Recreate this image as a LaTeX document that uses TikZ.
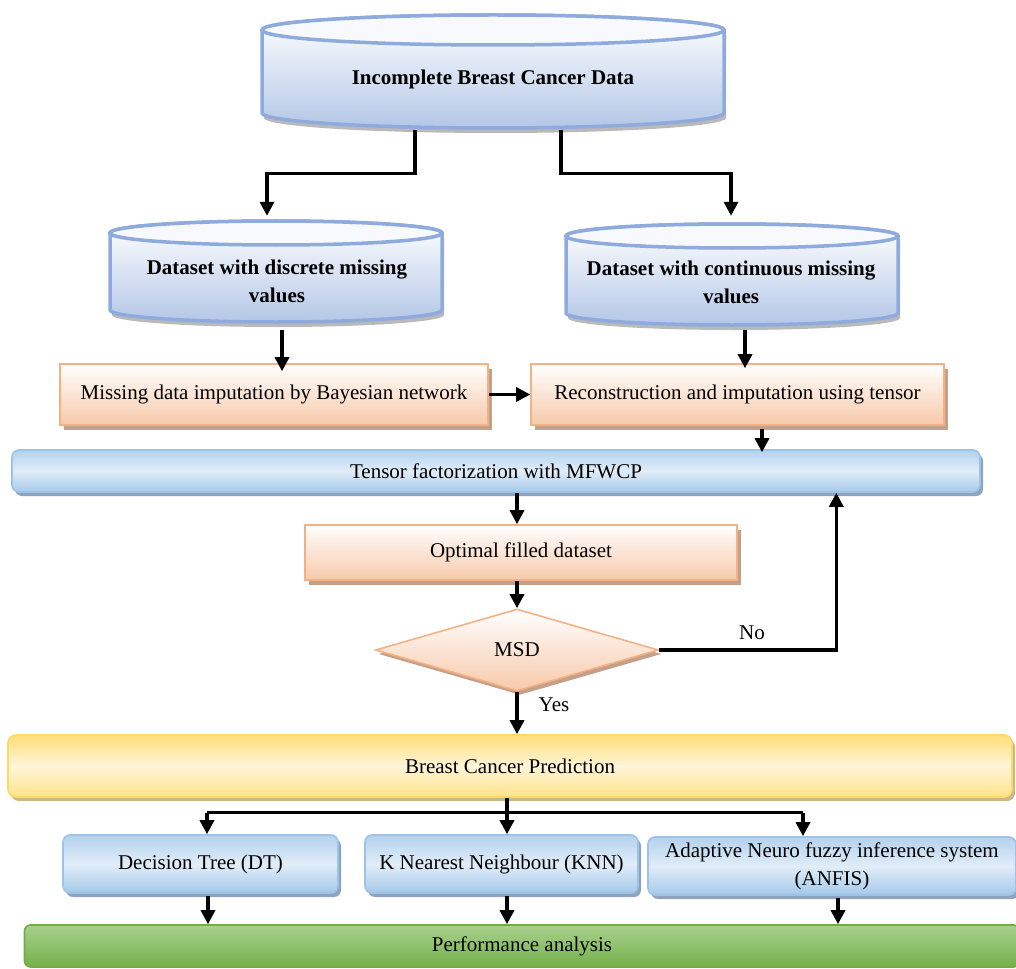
\documentclass[tikz,border=0pt]{standalone}
\usepackage{fontspec}
\setmainfont{Liberation Serif}
\usetikzlibrary{arrows.meta,shapes.geometric,shadows,calc}
\definecolor{cylborder}{HTML}{8FAADC}
\definecolor{cylfill}{HTML}{B4C7E7}
\definecolor{cyltopfill}{HTML}{F7F9FD}
\definecolor{obord}{HTML}{F4B183}
\definecolor{ofill}{HTML}{F7C9AA}
\definecolor{oshadow}{HTML}{C4A08A}
\definecolor{bbord}{HTML}{9DC3E6}
\definecolor{btop}{HTML}{B3D1EE}
\definecolor{bmid}{HTML}{E1EDF8}
\definecolor{bbot}{HTML}{A5C9EA}
\definecolor{bshadow}{HTML}{8EA3BF}
\definecolor{ybord}{HTML}{FFD966}
\definecolor{ytop}{HTML}{FFDF78}
\definecolor{ymid}{HTML}{FFF5D8}
\definecolor{ybot}{HTML}{FFE38C}
\definecolor{yshadow}{HTML}{C8B98A}
\definecolor{gbord}{HTML}{70AD47}
\definecolor{gtop}{HTML}{A9D18E}
\definecolor{gbot}{HTML}{74B04A}
\newcommand\cylshape[5]{%
  \fill[gray!55] (#1-#4+2,#2-5) -- (#1-#4+2,#3-5) arc[start angle=180,end angle=360,x radius=#4,y radius=#5] -- (#1+#4+2,#2-5) -- cycle;
  \path[draw=cylborder,line width=3.5pt,top color=white,bottom color=cylfill] (#1-#4,#2) -- (#1-#4,#3) arc[start angle=180,end angle=360,x radius=#4,y radius=#5] -- (#1+#4,#2) arc[start angle=0,end angle=180,x radius=#4,y radius=#5] -- cycle;
  \draw[draw=cylborder,line width=3.5pt,fill=cyltopfill] (#1,#2) ellipse[x radius=#4,y radius=#5];
}
\tikzset{
  fs/.style={font=\fontsize{21}{28}\selectfont},
  cyltext/.style={fs,font=\fontsize{21}{28}\selectfont\bfseries,align=center,inner sep=0pt},
  ghost/.style={inner sep=0pt,draw=none},
  arr/.style={line width=3.3pt,-{Triangle[length=14pt,width=14pt]}},
  link/.style={line width=3.3pt},
  obox/.style={fs,draw=obord,line width=1.6pt,top color=white,bottom color=ofill,
    drop shadow={shadow xshift=4pt,shadow yshift=-5pt,fill=oshadow,opacity=1},inner sep=0pt},
  bbox/.style={fs,draw=bbord,line width=1.6pt,rounded corners=7pt,top color=btop,bottom color=bbot,middle color=bmid,
    drop shadow={shadow xshift=3pt,shadow yshift=-4pt,fill=bshadow,opacity=1},inner sep=0pt,align=center},
  ybox/.style={fs,draw=ybord,line width=1.6pt,rounded corners=8pt,top color=ytop,bottom color=ybot,middle color=ymid,
    drop shadow={shadow xshift=3pt,shadow yshift=-4pt,fill=yshadow,opacity=1},inner sep=0pt},
  gbox/.style={fs,draw=gbord,line width=1.6pt,rounded corners=6pt,top color=gtop,bottom color=gbot,inner sep=0pt},
  dbox/.style={fs,diamond,draw=obord,line width=1.6pt,top color=white,bottom color=ofill,
    drop shadow={shadow xshift=3pt,shadow yshift=-4pt,fill=oshadow,opacity=1},inner sep=0pt,aspect=3.4},
}
\begin{document}
\begin{tikzpicture}[x=1pt,y=1pt]
\useasboundingbox (0,0) rectangle (1016,-968);
% cylinders
\cylshape{493}{-30}{-113}{231}{15}
\cylshape{276}{-233}{-310}{166}{12}
\cylshape{732}{-236}{-313}{166}{12}
\node[ghost,minimum width=462pt,minimum height=113pt] (top) at (493,-71.5) {};
\node[ghost,minimum width=332pt,minimum height=101pt] (disc) at (276,-271.5) {};
\node[ghost,minimum width=332pt,minimum height=101pt] (cont) at (732,-274.5) {};
\node[cyltext] (topt) at (493,-79) {Incomplete Breast Cancer Data};
\node[cyltext] (disct) at (277,-281) {Dataset with discrete missing\\values};
\node[cyltext] (contt) at (731,-282) {Dataset with continuous missing\\values};
% boxes
\node[obox,minimum width=428pt,minimum height=61pt] (bayes) at (274,-394.5) {Missing data imputation by Bayesian network};
\node[obox,minimum width=413pt,minimum height=61pt] (recon) at (737.5,-394.5) {Reconstruction and imputation using tensor};
\node[bbox,minimum width=968pt,minimum height=42pt] (tensor) at (496,-471) {Tensor factorization with MFWCP};
\node[obox,minimum width=432pt,minimum height=55pt] (opt) at (521,-552.5) {Optimal filled dataset};
\node[dbox,minimum width=283pt,minimum height=82pt] (msd) at (517,-650) {MSD};
\node[ybox,minimum width=1004pt,minimum height=62pt] (pred) at (510,-766) {Breast Cancer Prediction};
\node[bbox,minimum width=275pt,minimum height=58pt] (dt) at (200.5,-864) {Decision Tree (DT)};
\node[bbox,minimum width=273pt,minimum height=58pt] (knn) at (501.5,-864) {K Nearest Neighbour (KNN)};
\node[bbox,minimum width=368pt,minimum height=58pt,font=\fontsize{21}{28}\selectfont] (anfis) at (832,-866) {Adaptive Neuro fuzzy inference system\\(ANFIS)};
\node[gbox,minimum width=995pt,minimum height=42pt] (perf) at (522,-946) {Performance analysis};
% connectors
\draw[arr] ([xshift=-78pt,yshift=-2pt]top.south) -- ++(0,-43) -| ([xshift=-9pt,yshift=5pt]disc.north);
\draw[arr] ([xshift=68pt,yshift=-2pt]top.south) -- ++(0,-43) -| ([xshift=-1pt,yshift=8pt]cont.north);
\draw[arr] ([xshift=6pt,yshift=-8pt]disc.south) -- ([xshift=6pt,yshift=-8pt]disc.south |- bayes.north);
\draw[arr] ([xshift=13pt,yshift=-5pt]cont.south) -- ([xshift=13pt,yshift=-5pt]cont.south |- recon.north);
\draw[arr] (bayes.east) -- (recon.west);
\draw[arr] ([xshift=24.5pt,yshift=-3pt]recon.south) -- ([xshift=24.5pt,yshift=-3pt]recon.south |- tensor.north);
\draw[arr] ([xshift=21pt]tensor.south) -- ([xshift=21pt]tensor.south |- opt.north);
\draw[arr] ([xshift=-4pt]opt.south) -- (msd.north);
\draw[arr] (msd.east) -- ++(177,0) coordinate (nocorner) -- (nocorner |- tensor.south);
\node[fs,inner sep=0pt] (nolab) at (752,-633) {No};
\draw[arr] (msd.south) -- (msd.south |- pred.north);
\node[fs,inner sep=0pt] (yeslab) at (554,-705) {Yes};
\draw[link] ([xshift=-3pt]pred.south) -- ++(0,-15) coordinate (br);
\path (br) ++(-300,0) coordinate (bl) (br) ++(296,0) coordinate (brr);
\draw[link] (bl) -- (brr);
\draw[arr] (bl) -- (bl |- dt.north);
\draw[arr] (br) -- (br |- knn.north);
\draw[arr] (brr) -- (brr |- anfis.north);
\draw[arr] ([xshift=7.5pt,yshift=-2pt]dt.south) -- ([xshift=7.5pt]dt.south |- perf.north);
\draw[arr] ([xshift=5.5pt,yshift=-2pt]knn.south) -- ([xshift=5.5pt]knn.south |- perf.north);
\draw[arr] ([xshift=6pt,yshift=-2pt]anfis.south) -- ([xshift=6pt]anfis.south |- perf.north);
\end{tikzpicture}
\end{document}
